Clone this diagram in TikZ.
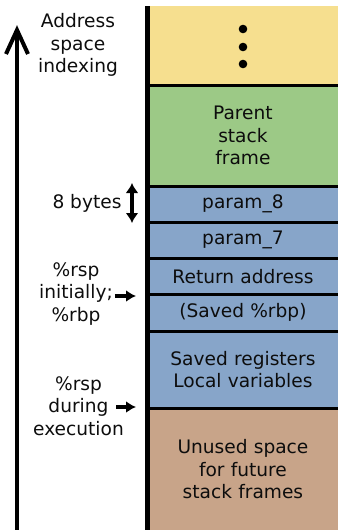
\documentclass[tikz,border=0pt]{standalone}
\usepackage{fontspec}
\setmainfont{DejaVu Sans}
\usetikzlibrary{arrows.meta}
\definecolor{cyellow}{RGB}{246,223,143}
\definecolor{cgreen}{RGB}{156,201,134}
\definecolor{cblue}{RGB}{135,165,201}
\definecolor{cbrown}{RGB}{200,164,137}
\tikzset{
  lbl/.style={font=\fontsize{18.6pt}{22.5pt}\selectfont, align=center, inner sep=0pt, text=black!95},
  cell/.style={lbl, rectangle, anchor=north west, minimum width=190.5pt, text width=188pt},
  sep/.style={line width=3.2pt},
  ptr/.style={line width=3.5pt, -{Latex[length=10pt,width=12pt]}},
  dptr/.style={line width=3.5pt, {Latex[length=10pt,width=13pt]}-{Latex[length=10pt,width=13pt]}},
}
\begin{document}
\begin{tikzpicture}[x=1pt,y=-1pt]
\useasboundingbox (0,0) rectangle (338,530);
% memory cells
\node[cell, fill=cyellow, minimum height=79pt]  (dots)   at (147.5,6)   {};
\node[cell, fill=cgreen,  minimum height=101pt] (parent) at (147.5,85)  {Parent\\stack\\frame};
\node[cell, fill=cblue,   minimum height=36pt]  (p8)     at (147.5,186) {param\_8};
\node[cell, fill=cblue,   minimum height=36pt]  (p7)     at (147.5,222) {param\_7};
\node[cell, fill=cblue,   minimum height=36pt]  (ret)    at (147.5,258) {Return address};
\node[cell, fill=cblue,   minimum height=37pt]  (rbp)    at (147.5,294) {(Saved \%rbp)};
\node[cell, fill=cblue,   minimum height=77pt]  (regs)   at (147.5,331) {Saved registers\\Local variables};
\node[cell, fill=cbrown,  minimum height=122pt] (unused) at (147.5,408) {Unused space\\for future\\stack frames};
% separators
\foreach \n in {dots,parent,p8,p7,ret,rbp,regs}
  \draw[sep] (\n.south west) -- (\n.south east);
% dots
\foreach \yy in {29,47,64} \fill (243,\yy) circle[radius=4.3pt];
% stack wall
\draw[line width=4.5pt] (147.5,6) -- (147.5,530);
% address axis
\coordinate (ax0) at (17,530);
\coordinate (ax1) at (17,30);
\draw[line width=4pt] (ax0) -- (ax1);
\draw[line width=4pt, miter limit=10] ([shift={(-11,24)}]ax1) -- (ax1) -- ([shift={(11,24)}]ax1);
\node[lbl] (addr) at (78,45) {Address\\space\\indexing};
% 8 bytes
\node[lbl] (bytes) at (87,203) {8 bytes};
\coordinate (b1) at (132,183);
\coordinate (b2) at (132,223);
\draw[dptr] (b1) -- (b2);
% %rsp initially
\node[lbl] (rspinit) at (76,294) {\%rsp\\initially;\\\%rbp};
\coordinate (t1) at (136,296);
\draw[ptr] ([xshift=2pt]rspinit.east |- t1) -- (t1);
% %rsp during execution
\node[lbl] (rspexec) at (78.5,406) {\%rsp\\during\\execution};
\coordinate (s0) at (116,407);
\coordinate (t2) at (136,407);
\draw[ptr] (s0) -- (t2);
\end{tikzpicture}
\end{document}
